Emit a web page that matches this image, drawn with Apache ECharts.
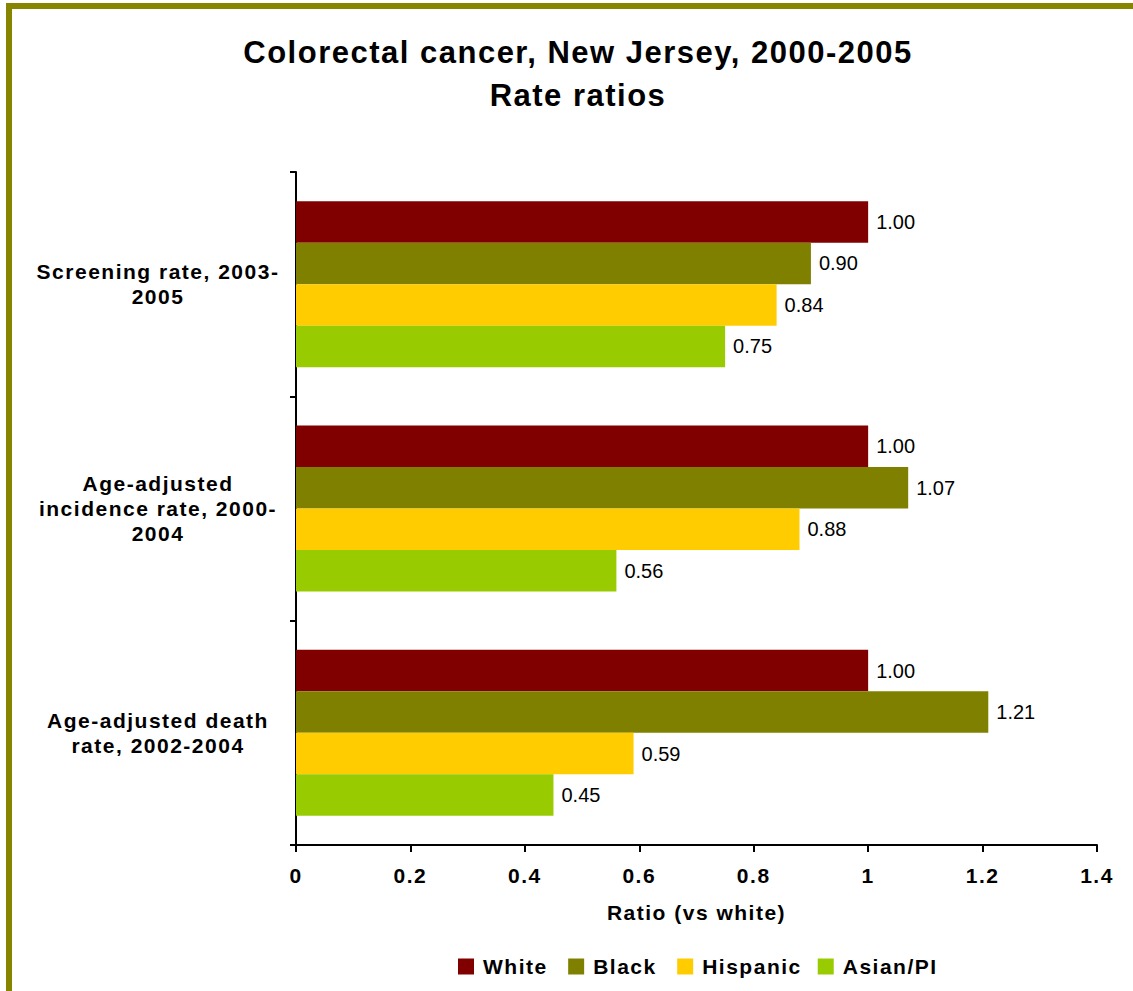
<!DOCTYPE html>
<html>
<head>
<meta charset="utf-8">
<script src="https://cdn.jsdelivr.net/npm/echarts@6/dist/echarts.min.js"></script>
<style>
html, body { margin: 0; padding: 0; background: #fff; }
#wrap { position: relative; width: 1133px; height: 991px; overflow: hidden; }
#chart { position: absolute; left: 0; top: 0; width: 1133px; height: 991px; }
#frame { position: absolute; left: 6px; top: 3px; width: 1200px; height: 1100px;
  border-top: 6px solid #858500; border-left: 6px solid #858500; pointer-events: none; }
#chart text[style*="bold"] { letter-spacing: 1.5px; }
</style>
</head>
<body>
<div id="wrap">
  <div id="chart"></div>
  <div id="frame"></div>
</div>
<script>
// ---- data ----
const titleText = 'Colorectal cancer, New Jersey, 2000-2005\nRate ratios';
const categories = [
  'Screening rate, 2003-\n2005',
  'Age-adjusted\nincidence rate, 2000-\n2004',
  'Age-adjusted death\nrate, 2002-2004'
];
const seriesNames = ['White', 'Black', 'Hispanic', 'Asian/PI'];
const white    = [1.00, 1.00, 1.00];
const black    = [0.90, 1.07, 1.21];
const hispanic = [0.84, 0.88, 0.59];
const asianPI  = [0.75, 0.56, 0.45];
const xTicks = { min: 0, max: 1.4, interval: 0.2 };
const xAxisName = 'Ratio (vs white)';

// ---- styling ----
const colors = ['#800000', '#808000', '#FFCC00', '#99CC00'];
const FONT = '"Liberation Sans", Arial, sans-serif';
const values = [white, black, hispanic, asianPI];

const chart = echarts.init(document.getElementById('chart'), null, { renderer: 'svg' });
chart.setOption({
  animation: false,
  backgroundColor: 'transparent',
  title: {
    text: titleText,
    left: 573,
    top: 26,
    textAlign: 'center',
    textStyle: { fontFamily: FONT, fontSize: 31, fontWeight: 'bold', color: '#000', lineHeight: 43 }
  },
  legend: {
    data: seriesNames,
    left: 453,
    top: 951,
    icon: 'rect',
    itemWidth: 16,
    itemHeight: 16,
    itemGap: 28,
    textStyle: { fontFamily: FONT, fontSize: 21, fontWeight: 'bold', color: '#000', padding: [0, 0, 0, 4] }
  },
  grid: { left: 296, right: 36, top: 172, bottom: 146, containLabel: false },
  xAxis: {
    type: 'value',
    min: xTicks.min, max: xTicks.max, interval: xTicks.interval,
    name: xAxisName,
    nameLocation: 'middle',
    nameGap: 57,
    nameTextStyle: { fontFamily: FONT, fontSize: 21, fontWeight: 'bold', color: '#000' },
    axisLine: { show: true, lineStyle: { color: '#000', width: 2 } },
    axisTick: { show: true, length: 7, lineStyle: { color: '#000', width: 2 } },
    splitLine: { show: false },
    axisLabel: {
      margin: 20,
      fontFamily: FONT, fontSize: 21, fontWeight: 'bold', color: '#000',
      formatter: v => String(Math.round(v * 10) / 10)
    }
  },
  yAxis: {
    type: 'category',
    data: categories,
    inverse: true,
    axisLine: { show: true, lineStyle: { color: '#000', width: 2 } },
    axisTick: { show: true, length: 6, lineStyle: { color: '#000', width: 2 } },
    axisLabel: {
      margin: 138,
      align: 'center',
      fontFamily: FONT, fontSize: 21, fontWeight: 'bold', color: '#000',
      lineHeight: 25
    }
  },
  series: seriesNames.map((name, i) => ({
    name: name,
    type: 'bar',
    data: values[i],
    barGap: '0%',
    barCategoryGap: '26%',
    itemStyle: { color: colors[i] },
    label: {
      show: true,
      position: 'right',
      distance: 8,
      fontFamily: FONT, fontSize: 20, fontWeight: 'normal', color: '#000',
      formatter: p => p.value.toFixed(2)
    }
  }))
});
</script>
</body>
</html>
